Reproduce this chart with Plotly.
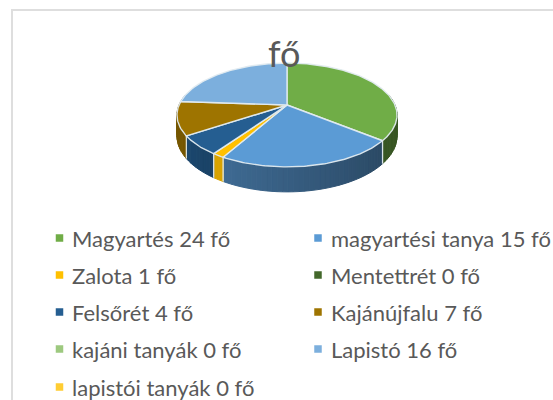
import numpy as np
import plotly.graph_objects as go

labels = ["Magyartés 24 fő", "magyartési tanya 15 fő", "Zalota 1 fő", "Mentettrét 0 fő", "Felsőrét 4 fő",
          "Kajánújfalu 7 fő", "kajáni tanyák 0 fő", "Lapistó 16 fő", "lapistói tanyák 0 fő"]
values = [24, 15, 1, 0, 4, 7, 0, 16, 0]
colors = ["#70AD47", "#5B9BD5", "#FFC000", "#43682B", "#255E91", "#9E7400", "#9DC97F", "#7CAFDD", "#FFCD33"]
title_text = "fő"

# Projection of the tilted pie onto pixels
CX, CY, R, A, B, D = 287.0, 105.0, 108.0, 50.0, 0.192, 20.2


def project(theta, drop=0.0):
    u, v = np.sin(theta), -np.cos(theta)
    s = 1 / (1 - B * v)
    return CX + R * u * s, CY + A * v * s + D * s * drop


def mix(c, f):
    c = c.lstrip("#")
    r, g, b = [int(c[i:i + 2], 16) for i in (0, 2, 4)]
    return f"rgb({int(r * f)},{int(g * f)},{int(b * f)})"


fig = go.Figure()
total = sum(values)
edges = np.cumsum([0] + values) / total * 2 * np.pi
EDGE = "rgba(225,235,240,0.95)"

# side walls (only the visible, front-facing part of each slice)
for i, val in enumerate(values):
    if val == 0:
        continue
    a0, a1 = edges[i], edges[i + 1]
    lo, hi = max(a0, np.pi / 2 - 0.2), min(a1, 3 * np.pi / 2 + 0.2)
    if hi <= lo:
        continue
    steps = max(2, int((hi - lo) / 0.04))
    th = np.linspace(lo, hi, steps + 1)
    for t0, t1 in zip(th[:-1], th[1:]):
        mid = (t0 + t1) / 2
        # shade falls from the left (light) to the right (dark) of the front wall
        f = 0.36 + 0.50 * np.clip((mid - np.pi / 2) / np.pi, 0, 1)
        if i == 0:
            f = 0.5
        if i == 2:
            f = 0.85
        if i == 5:
            f = 0.75
        seg = np.linspace(t0, t1, 4)
        xt, yt = project(seg)
        xb, yb = project(seg[::-1], 1.0)
        col = mix(colors[i], f)
        fig.add_trace(go.Scatter(x=np.r_[xt, xb, xt[0]], y=np.r_[yt, yb, yt[0]], mode="lines", fill="toself",
                                 fillcolor=col, line=dict(color=col, width=1), hoverinfo="skip", showlegend=False))
    # wall boundary
    for t in (a0, a1):
        if np.pi / 2 - 0.2 < t < 3 * np.pi / 2 + 0.2:
            x0, y0 = project(np.array([t]))
            x1, y1 = project(np.array([t]), 1.0)
            fig.add_trace(go.Scatter(x=[x0[0], x1[0]], y=[y0[0], y1[0]], mode="lines",
                                     line=dict(color=EDGE, width=1.2), hoverinfo="skip", showlegend=False))

# top face
for i, val in enumerate(values):
    if val == 0:
        continue
    th = np.linspace(edges[i], edges[i + 1], max(3, int(val * 6)))
    x, y = project(th)
    fig.add_trace(go.Scatter(x=np.r_[CX, x, CX], y=np.r_[CY, y, CY], mode="lines", fill="toself",
                             fillcolor=colors[i], line=dict(color=EDGE, width=1.4),
                             name=labels[i], hovertemplate="%{fullData.name}<extra></extra>", showlegend=False))

# key: two columns of square swatches with their labels
col_x = [59.5, 318]
text_x = [70, 329]
row_y = [238, 275, 312, 349, 387]
FONT = "Lato, Carlito, sans-serif"
for i, lab in enumerate(labels):
    c, r = i % 2, i // 2
    fig.add_trace(go.Scatter(x=[col_x[c]], y=[row_y[r]], mode="markers",
                             marker=dict(symbol="square", size=7.5, color=colors[i]),
                             hoverinfo="skip", showlegend=False, cliponaxis=False))
    fig.add_annotation(x=text_x[c], y=row_y[r], text=lab, showarrow=False, xanchor="left", yanchor="middle",
                       font=dict(family=FONT, size=22, color="#595959"))

fig.add_annotation(x=284, y=53, text=title_text, showarrow=False,
                   font=dict(family=FONT, size=36, color="#595959"))
fig.add_shape(type="line", x0=12, y0=10, x1=553, y1=10, line=dict(color="#DEDEDE", width=2))
fig.add_shape(type="line", x0=12, y0=9, x1=12, y1=400, line=dict(color="#DEDEDE", width=2))
fig.update_xaxes(visible=False, range=[0, 553], fixedrange=True)
fig.update_yaxes(visible=False, range=[400, 0], fixedrange=True)
fig.update_layout(width=553, height=400, margin=dict(l=0, r=0, t=0, b=0),
                  paper_bgcolor="white", plot_bgcolor="white", showlegend=False)
fig.write_html("out.html", config={"displayModeBar": False},
               post_script="document.body.style.margin='0';document.body.style.overflow='hidden';")
